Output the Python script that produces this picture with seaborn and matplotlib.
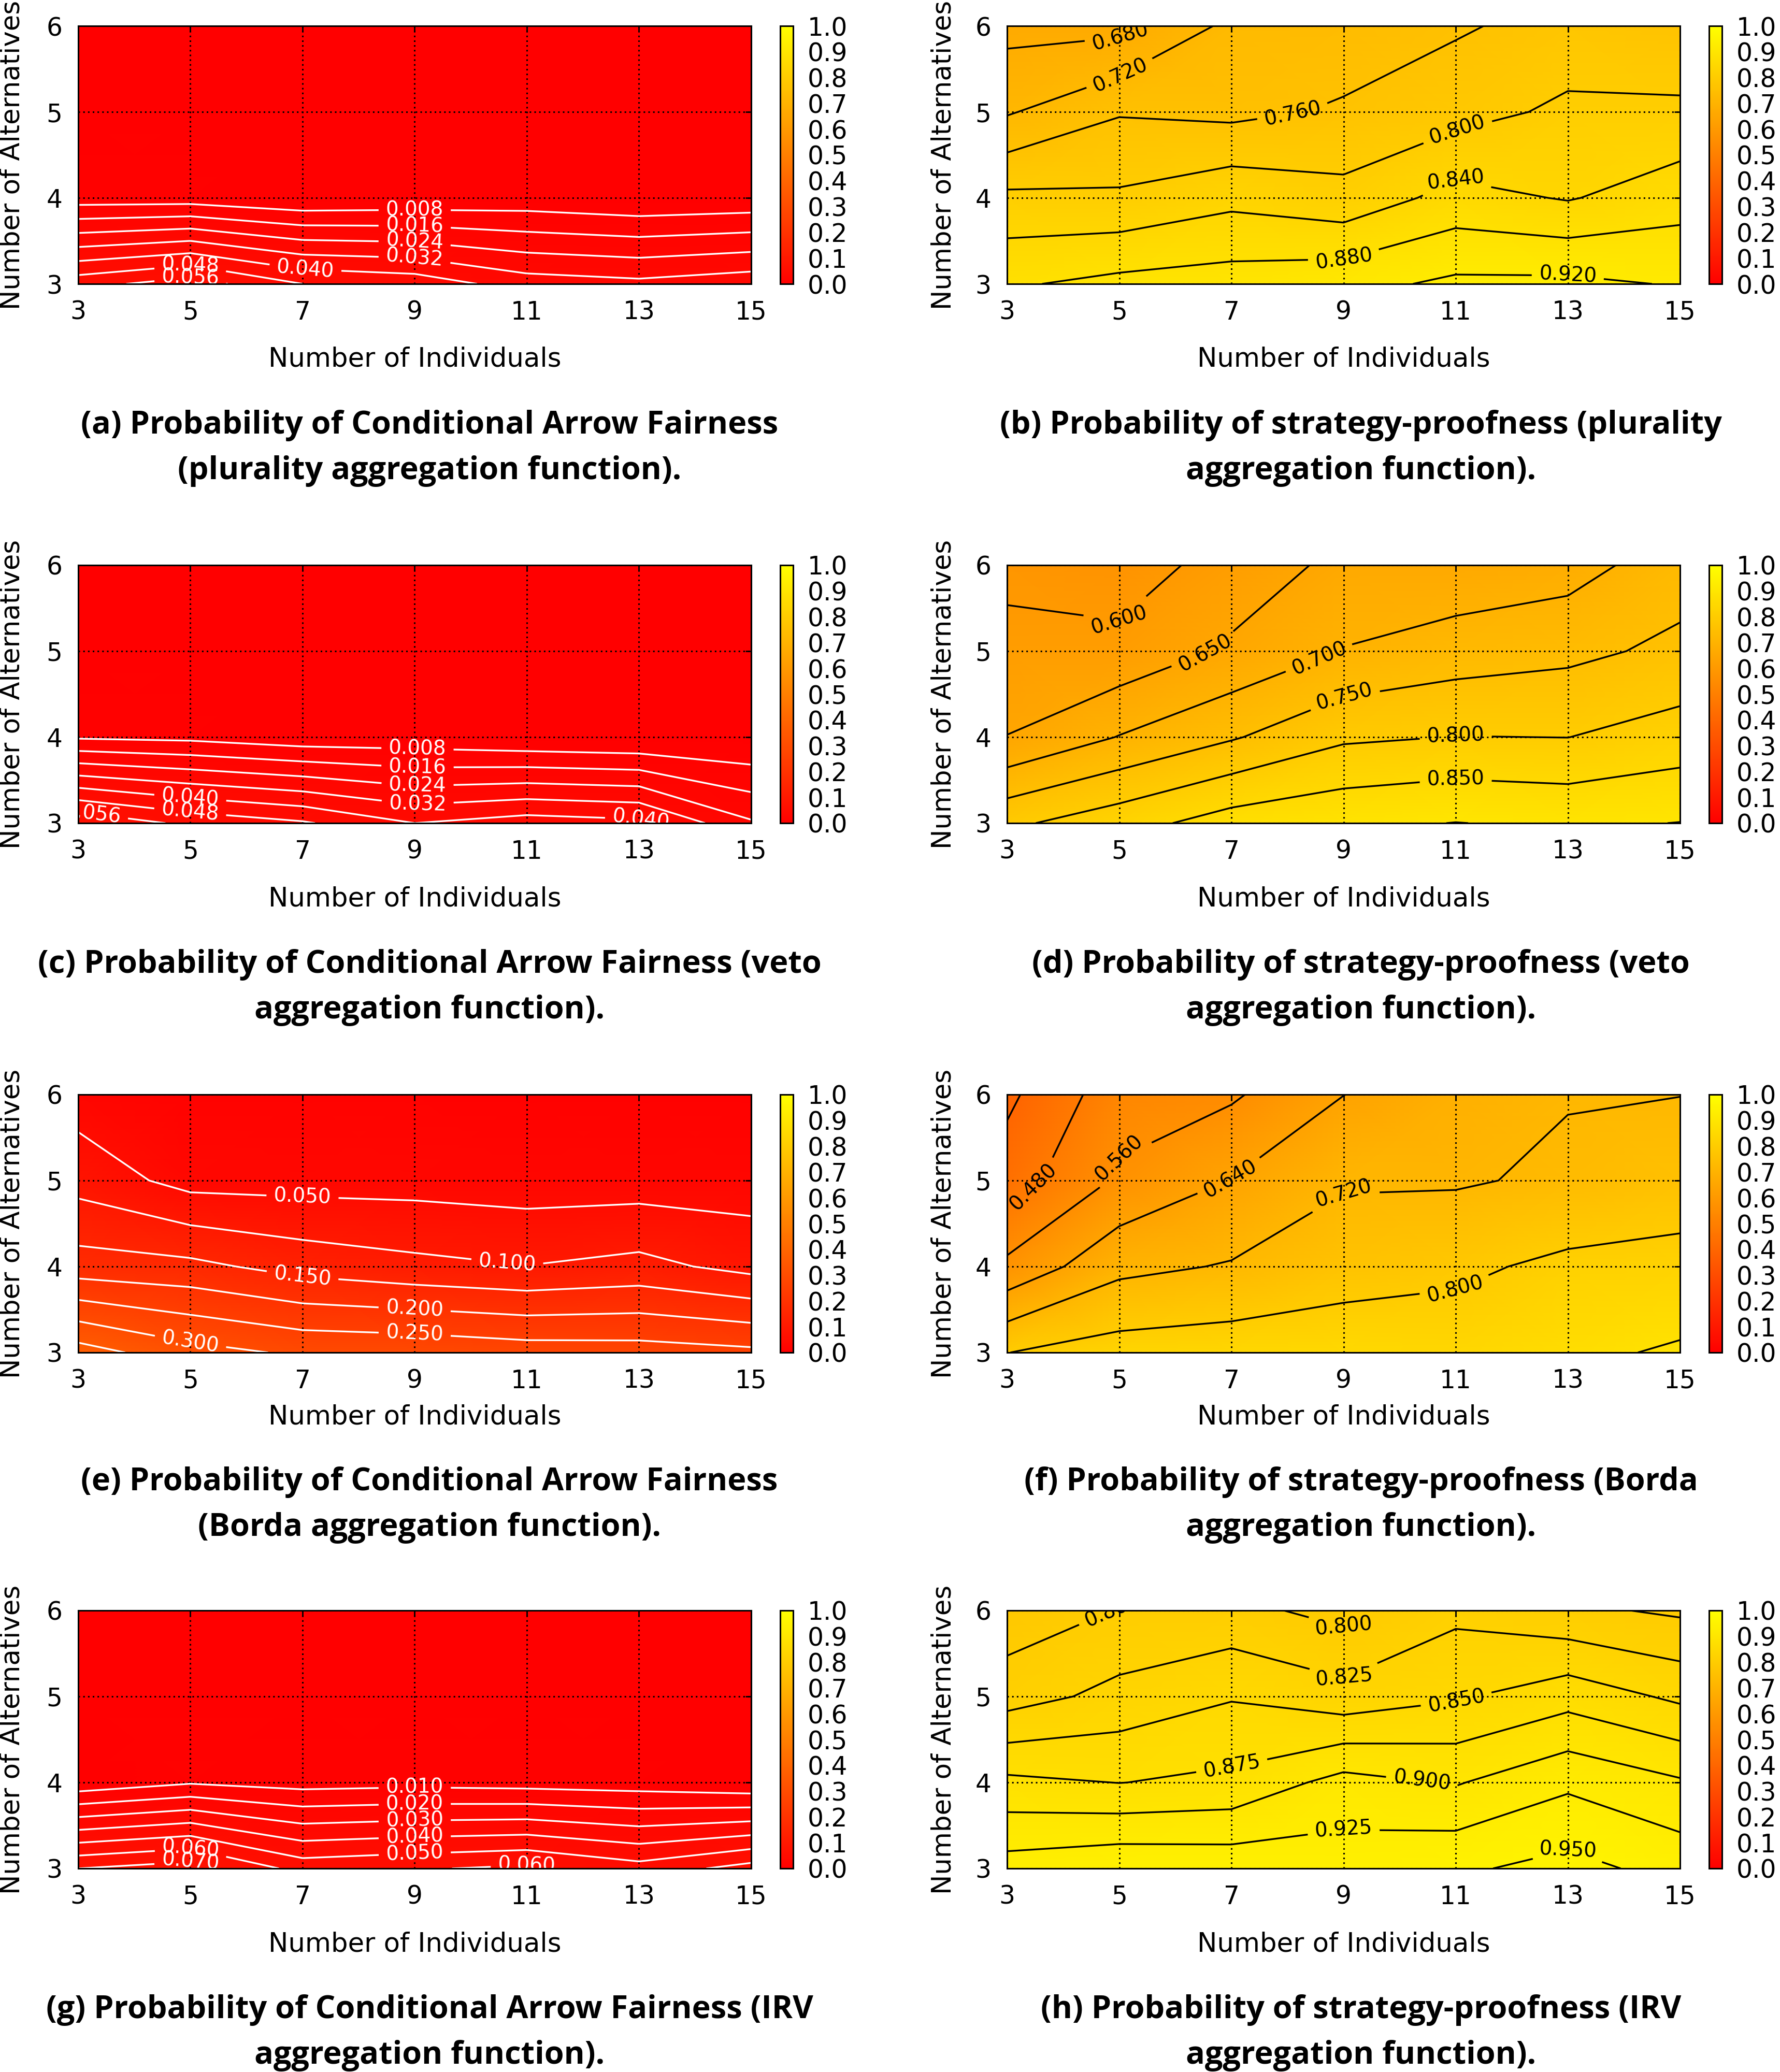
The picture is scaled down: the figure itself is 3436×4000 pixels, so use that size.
import numpy as np
import matplotlib
matplotlib.use("Agg")
import matplotlib.pyplot as plt
from matplotlib.colors import LinearSegmentedColormap
import seaborn as sns

# ---------------------------------------------------------------------------
# Data (rows: number of alternatives 3,4,5,6 ; columns: individuals 3..15)
# ---------------------------------------------------------------------------
individuals = [3, 5, 7, 9, 11, 13, 15]
alternatives = [3, 4, 5, 6]
cbar_ticks = [0.0, 0.1, 0.2, 0.3, 0.4, 0.5, 0.6, 0.7, 0.8, 0.9, 1.0]

caf_plurality = [
    [0.053, 0.060, 0.048, 0.045, 0.036, 0.034, 0.037],
    [0.004, 0.004, 0.001, 0.002, 0.003, 0.001, 0.002],
    [0.000, 0.000, 0.000, 0.000, 0.000, 0.000, 0.000],
    [0.000, 0.000, 0.000, 0.000, 0.000, 0.000, 0.000],
]
sp_plurality = [
    [0.875, 0.891, 0.898, 0.907, 0.928, 0.929, 0.917],
    [0.809, 0.806, 0.829, 0.813, 0.854, 0.837, 0.863],
    [0.716, 0.757, 0.750, 0.765, 0.785, 0.808, 0.809],
    [0.667, 0.668, 0.730, 0.737, 0.755, 0.775, 0.762],
]
caf_veto = [
    [0.063, 0.054, 0.049, 0.040, 0.044, 0.042, 0.025],
    [0.007, 0.006, 0.003, 0.003, 0.001, 0.000, 0.000],
    [0.000, 0.000, 0.000, 0.000, 0.000, 0.000, 0.000],
    [0.000, 0.000, 0.000, 0.000, 0.000, 0.000, 0.000],
]
sp_veto = [
    [0.790, 0.829, 0.873, 0.889, 0.901, 0.892, 0.901],
    [0.651, 0.702, 0.745, 0.792, 0.801, 0.7995, 0.822],
    [0.615, 0.614, 0.658, 0.702, 0.725, 0.738, 0.761],
    [0.587, 0.575, 0.620, 0.663, 0.664, 0.679, 0.728],
]
caf_borda = [
    [0.373, 0.318, 0.292, 0.288, 0.275, 0.272, 0.261],
    [0.172, 0.163, 0.131, 0.113, 0.101, 0.115, 0.084],
    [0.081, 0.032, 0.031, 0.031, 0.025, 0.026, 0.026],
    [0.026, 0.010, 0.008, 0.008, 0.006, 0.006, 0.006],
]
sp_borda = [
    [0.799, 0.833, 0.842, 0.848, 0.841, 0.865, 0.889],
    [0.578, 0.700, 0.726, 0.765, 0.785, 0.817, 0.827],
    [0.439, 0.572, 0.642, 0.712, 0.712, 0.733, 0.757],
    [0.383, 0.526, 0.549, 0.639, 0.690, 0.716, 0.719],
]
caf_irv = [
    [0.070, 0.075, 0.056, 0.059, 0.062, 0.054, 0.064],
    [0.003, 0.009, 0.006, 0.007, 0.006, 0.005, 0.002],
    [0.000, 0.000, 0.000, 0.000, 0.000, 0.000, 0.000],
    [0.000, 0.000, 0.000, 0.000, 0.000, 0.000, 0.000],
]
sp_irv = [
    [0.936, 0.945, 0.942, 0.938, 0.946, 0.958, 0.941],
    [0.881, 0.8745, 0.881, 0.909, 0.898, 0.920, 0.903],
    [0.8135, 0.833, 0.848, 0.834, 0.847, 0.865, 0.845],
    [0.785, 0.801, 0.807, 0.792, 0.819, 0.805, 0.796],
]

# contour levels per panel
levels_a = [0.008, 0.016, 0.024, 0.032, 0.040, 0.048, 0.056]
levels_b = [0.680, 0.720, 0.760, 0.800, 0.840, 0.880, 0.920]
levels_c = [0.008, 0.016, 0.024, 0.032, 0.040, 0.048, 0.056]
levels_d = [0.600, 0.650, 0.700, 0.750, 0.800, 0.850, 0.900]
levels_e = [0.050, 0.100, 0.150, 0.200, 0.250, 0.300, 0.350]
levels_f = [0.400, 0.480, 0.560, 0.640, 0.720, 0.800, 0.880]
levels_g = [0.010, 0.020, 0.030, 0.040, 0.050, 0.060, 0.070]
levels_h = [0.800, 0.825, 0.850, 0.875, 0.900, 0.925, 0.950]

captions = [
    ("(a) Probability of Conditional Arrow Fairness", "(plurality aggregation function)."),
    ("(b) Probability of strategy-proofness (plurality", "aggregation function)."),
    ("(c) Probability of Conditional Arrow Fairness (veto", "aggregation function)."),
    ("(d) Probability of strategy-proofness (veto", "aggregation function)."),
    ("(e) Probability of Conditional Arrow Fairness", "(Borda aggregation function)."),
    ("(f) Probability of strategy-proofness (Borda", "aggregation function)."),
    ("(g) Probability of Conditional Arrow Fairness (IRV", "aggregation function)."),
    ("(h) Probability of strategy-proofness (IRV", "aggregation function)."),
]

# where the contour labels sit (data coords)
label_pos = {
    "a": [(9.0, 3.87), (9.0, 3.68), (9.0, 3.51), (9.0, 3.32), (7.05, 3.17),
          (5.0, 3.22), (5.0, 3.08)],
    "b": [(5.0, 5.9), (5.0, 5.45), (8.1, 4.97), (11.0, 4.85), (11.0, 4.22),
          (9.0, 3.31), (13.0, 3.11)],
    "c": [(9.05, 3.87), (9.05, 3.66), (9.05, 3.44), (9.05, 3.24), (5.0, 3.31),
          (5.0, 3.15), (3.25, 3.11), (13.05, 3.07)],
    "d": [(5.0, 5.36), (6.5, 5.03), (8.5, 5.03), (9.0, 4.52), (11.0, 4.03),
          (11.0, 3.52)],
    "e": [(7.0, 4.82), (10.65, 4.03), (7.0, 3.89), (9.0, 3.52), (9.0, 3.22),
          (5.0, 3.12)],
    "f": [(3.35, 5.03), (5.0, 5.26), (7.0, 5.0), (9.0, 4.85), (11.0, 3.71)],
    "g": [(9.0, 3.97), (9.0, 3.79), (9.0, 3.58), (9.0, 3.38), (9.0, 3.19),
          (5.0, 3.2), (11.0, 3.08), (5.0, 3.07)],
    "h": [(5.0, 5.92), (9.0, 5.81), (9.0, 5.24), (11.0, 4.98), (7.0, 4.21),
          (10.4, 4.03), (9.0, 3.45), (13.0, 3.21)],
}

panels = [
    ("a", caf_plurality, levels_a, "white"),
    ("b", sp_plurality, levels_b, "black"),
    ("c", caf_veto, levels_c, "white"),
    ("d", sp_veto, levels_d, "black"),
    ("e", caf_borda, levels_e, "white"),
    ("f", sp_borda, levels_f, "black"),
    ("g", caf_irv, levels_g, "white"),
    ("h", sp_irv, levels_h, "black"),
]

# ---------------------------------------------------------------------------
# Layout (pixels of the 3436 x 4000 canvas)
# ---------------------------------------------------------------------------
W, H = 3436, 4000
col_left = [151, 1944]
cbar_left = [1506, 3299]
ylab_x = [49, 1847]          # x of the rotated y-label's lower edge
cap_center = [829, 2627]
row_top = [50, 1091, 2113, 3109]
cap_offset = [787, 787, 764, 787]
xlab_offset = [160, 160, 139, 160]
PW, PH = 1299, 498


def px_box(left, top, width, height):
    return [left / W, 1 - (top + height) / H, width / W, height / H]


sns.set_theme(style="white")
plt.rcParams["font.family"] = ["DejaVu Sans"]
plt.rcParams["axes.edgecolor"] = "black"

cmap = LinearSegmentedColormap.from_list("gp_red_yellow", ["#ff0000", "#ffff00"])

fig = plt.figure(figsize=(W / 100, H / 100), dpi=100)
X, Y = np.meshgrid(individuals, alternatives)

for i, (key, values, levels, line_color) in enumerate(panels):
    row, col = divmod(i, 2)
    Z = np.array(values, dtype=float)

    ax = fig.add_axes(px_box(col_left[col], row_top[row], PW, PH))
    mesh = ax.pcolormesh(X, Y, Z, shading="gouraud", cmap=cmap,
                         vmin=0, vmax=1, zorder=0)
    cs = ax.contour(X, Y, Z, levels=levels, colors=line_color,
                    linewidths=2.4, zorder=3)
    texts = ax.clabel(cs, fmt="%.3f", fontsize=28, colors=line_color,
                      inline=True, inline_spacing=14, manual=label_pos[key])
    for t in texts:
        t.set_clip_on(True)
        t.set_clip_path(ax.patch)

    ax.set_xlim(3, 15)
    ax.set_ylim(3, 6)
    ax.set_xticks(individuals)
    ax.set_yticks(alternatives)
    ax.grid(True, color="black", linestyle=(0, (1, 2)), linewidth=2.2)
    ax.set_axisbelow(False)
    ax.tick_params(direction="in", length=8, width=2, top=True, right=True,
                   labelsize=35, pad=22, colors="black")
    for s in ax.spines.values():
        s.set_linewidth(2.2)
        s.set_color("black")
        s.set_zorder(5)

    ax.set_xlabel("Number of Individuals", fontsize=37, color="black")
    ax.xaxis.label.set_va("baseline")
    ax.xaxis.set_label_coords(0.5, -xlab_offset[row] / PH)
    ax.set_ylabel("Number of Alternatives", fontsize=37, color="black")
    ax.yaxis.set_label_coords((ylab_x[col] - col_left[col]) / PW, 0.5)

    cax = fig.add_axes(px_box(cbar_left[col], row_top[row], 25, PH))
    cb = fig.colorbar(mesh, cax=cax, ticks=cbar_ticks)
    cb.ax.set_yticklabels([f"{v:.1f}" for v in cbar_ticks])
    cb.outline.set_linewidth(2.2)
    cb.outline.set_edgecolor("black")
    cax.tick_params(direction="in", length=13, width=2, labelsize=35,
                    pad=20, colors="black")

    line1, line2 = captions[i]
    base = row_top[row] + cap_offset[row]
    for k, line in enumerate((line1, line2)):
        fig.text(cap_center[col] / W, 1 - (base + 88 * k) / H, line,
                 ha="center", va="baseline", fontsize=44, fontweight="bold",
                 family=["Open Sans", "DejaVu Sans"], color="black")

fig.savefig("out.png", dpi=100, facecolor="white")
